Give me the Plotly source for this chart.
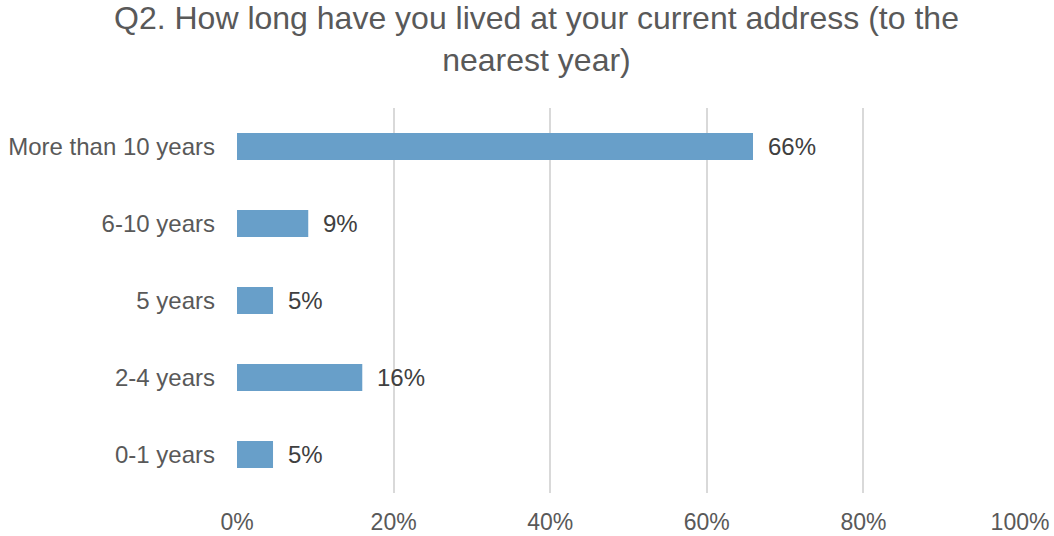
import plotly.graph_objects as go

categories = ["0-1 years", "2-4 years", "5 years", "6-10 years", "More than 10 years"]
values = [0.046, 0.160, 0.046, 0.091, 0.659]
labels = ["5%", "16%", "5%", "9%", "66%"]
tick_vals = [0, 0.2, 0.4, 0.6, 0.8, 1.0]
tick_text = ["0%", "20%", "40%", "60%", "80%", "100%"]

FONT = "Liberation Sans, Arial, sans-serif"
GREY = "#595959"

fig = go.Figure()
fig.add_trace(go.Bar(
    y=categories, x=values, orientation="h",
    marker=dict(color="#689fc9", line=dict(width=0)),
    width=0.35,
    hoverinfo="skip",
))
for c, v, t in zip(categories, values, labels):
    fig.add_annotation(x=v, y=c, text=t, showarrow=False, xanchor="left",
                       xshift=13, font=dict(family=FONT, size=24, color="#404040"))

fig.update_layout(
    width=1054, height=536,
    margin=dict(l=237, r=34, t=108, b=43),
    paper_bgcolor="white", plot_bgcolor="white",
    showlegend=False,
    title=dict(text="Q2. How long have you lived at your current address (to the<br>nearest year)",
               x=0.509, xanchor="center", y=0.946, yanchor="top", yref="container",
               font=dict(family=FONT, size=32, color=GREY)),
    font=dict(family=FONT, color=GREY),
)
fig.update_xaxes(range=[0, 1.0], tickvals=tick_vals, ticktext=tick_text,
                 showgrid=True, gridcolor="#d9d9d9", gridwidth=2,
                 zeroline=False, showline=False, automargin=False,
                 tickfont=dict(family=FONT, size=23, color=GREY),
                 ticklabelstandoff=13, fixedrange=True)
fig.update_yaxes(categoryorder="array", categoryarray=categories,
                 showgrid=False, zeroline=False, showline=False, automargin=False,
                 tickfont=dict(family=FONT, size=24, color=GREY),
                 ticklabelstandoff=21, fixedrange=True)

fig.write_html("out.html", config={"responsive": False, "displayModeBar": False},
               post_script="document.body.style.margin='0';document.body.style.overflow='hidden';")
